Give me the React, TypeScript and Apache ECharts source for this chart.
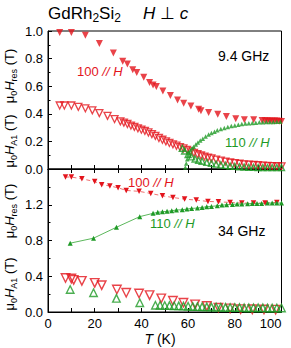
import React, { useEffect, useRef } from 'react';
import * as echarts from 'echarts';

// ---------- data ----------
// 9.4 GHz, resonance field, 100 // H (filled red down-triangles)
const T_res9_100 = [5, 10, 16, 22, 28, 32, 34, 36.3, 38, 41, 43.5, 45, 46.4, 49.2, 52.4, 55.5, 58.1, 61.2, 64.5, 65.5, 68.8, 72.7, 76.4, 80.4, 84.1, 88.1, 91.7, 93, 94, 95, 96, 97, 98, 99, 100];
const H_res9_100 = [0.99, 0.99, 0.97, 0.91, 0.84, 0.78, 0.76, 0.72, 0.70, 0.665, 0.626, 0.609, 0.597, 0.565, 0.532, 0.50, 0.476, 0.457, 0.433, 0.423, 0.409, 0.397, 0.38, 0.364, 0.357, 0.357, 0.351, 0.35, 0.35, 0.348, 0.348, 0.347, 0.347, 0.346, 0.345];
// 9.4 GHz, anisotropy field, 100 // H (open red down-triangles)
const T_a9_100 = [5, 7, 10, 13, 16, 19, 22, 25.5, 28.5, 31, 32.5, 34, 35.5, 37, 38.5, 40, 41.5, 43, 44.5, 46, 47.5, 49, 50.5, 52, 53.5, 55, 56.5, 58, 59.5, 61, 62.5, 64, 65.5, 67, 68.5, 70, 72, 74, 76, 78, 80, 82, 84, 86, 88, 90, 92, 94, 96, 98, 100];
const H_a9_100 = [0.46, 0.46, 0.46, 0.45, 0.44, 0.425, 0.405, 0.385, 0.362, 0.345, 0.336, 0.326, 0.315, 0.305, 0.295, 0.285, 0.276, 0.265, 0.253, 0.24, 0.225, 0.212, 0.2, 0.189, 0.179, 0.169, 0.159, 0.149, 0.139, 0.127, 0.117, 0.107, 0.098, 0.09, 0.083, 0.077, 0.068, 0.06, 0.054, 0.047, 0.042, 0.038, 0.034, 0.031, 0.029, 0.027, 0.025, 0.023, 0.021, 0.02, 0.019];
// 9.4 GHz, resonance field, 110 // H (filled green up-triangles)
const T_res9_110 = [58.8, 59.2, 59.6, 60, 60.5, 61, 61.7, 62.4, 63.3, 64.2, 65.2, 66.3, 67.5, 68.8, 70, 71.3, 72.5, 74, 75.5, 77, 78.5, 80, 81.5, 83, 84.5, 86, 87.5, 89, 90.5, 92, 93.5, 95, 96.5, 98, 99.5];
const H_res9_110 = [0.01, 0.04, 0.07, 0.1, 0.12, 0.135, 0.15, 0.162, 0.178, 0.192, 0.207, 0.22, 0.235, 0.25, 0.26, 0.27, 0.28, 0.29, 0.298, 0.305, 0.311, 0.316, 0.321, 0.326, 0.329, 0.332, 0.334, 0.336, 0.338, 0.339, 0.34, 0.341, 0.341, 0.342, 0.342];
// 9.4 GHz, anisotropy field, 110 // H (open green up-triangles)
const T_a9_110 = [57.5, 58.5, 60, 61.5, 63, 64.5, 66, 68, 70, 72, 74, 76, 78, 80, 82, 84, 86, 88, 90, 92, 94, 96, 98, 100];
const H_a9_110 = [0.15, 0.13, 0.105, 0.088, 0.073, 0.063, 0.056, 0.048, 0.041, 0.035, 0.03, 0.026, 0.022, 0.019, 0.016, 0.014, 0.013, 0.012, 0.011, 0.01, 0.01, 0.01, 0.01, 0.01];

// 34 GHz, resonance field, 100 // H
const T_res34_100 = [7.5, 10, 14.5, 20, 23, 26.5, 30, 33.5, 39, 44, 49, 53.5, 58.5, 63.5, 68.5, 73, 78, 83, 88, 93, 98];
const H_res34_100 = [1.51, 1.51, 1.49, 1.46, 1.425, 1.41, 1.39, 1.36, 1.35, 1.326, 1.30, 1.281, 1.263, 1.252, 1.237, 1.233, 1.226, 1.219, 1.219, 1.219, 1.226];
// 34 GHz, resonance field, 110 // H
const T_res34_110 = [9.5, 19.5, 29.3, 39.3, 45, 47, 49, 51, 53, 55, 57.5, 59.5, 61.5, 64, 66, 68, 70, 72.5, 74.5, 76.5, 79, 81, 83, 85.5, 87.5, 89.5, 91.5, 94, 96, 98, 100];
const H_res34_110 = [0.77, 0.826, 0.948, 1.067, 1.104, 1.115, 1.122, 1.126, 1.133, 1.141, 1.144, 1.152, 1.159, 1.163, 1.17, 1.178, 1.181, 1.189, 1.196, 1.2, 1.204, 1.207, 1.207, 1.211, 1.215, 1.215, 1.215, 1.219, 1.219, 1.219, 1.219];
// 34 GHz, anisotropy field, 100 // H
const T_a34_100 = [7.5, 10, 11, 14.5, 20, 23, 29.5, 33.5, 39, 43.5, 48.5, 53.5, 58, 63, 68, 73, 78, 82.5, 87.5, 92.5, 97.5];
const H_a34_100 = [0.381, 0.374, 0.36, 0.348, 0.326, 0.30, 0.252, 0.215, 0.207, 0.189, 0.152, 0.126, 0.104, 0.085, 0.067, 0.048, 0.041, 0.032, 0.03, 0.028, 0.027];
// 34 GHz, anisotropy field, 110 // H
const T_a34_110 = [9.5, 19.5, 29.3, 39.3, 46, 48, 50, 52, 54, 56, 58, 60, 62, 64, 66, 68, 70, 72, 74, 76, 78, 80, 82, 84, 86, 88, 90, 92, 94, 96, 98, 100];
const H_a34_110 = [0.252, 0.215, 0.152, 0.104, 0.075, 0.075, 0.073, 0.072, 0.07, 0.068, 0.066, 0.064, 0.062, 0.06, 0.058, 0.057, 0.055, 0.054, 0.053, 0.052, 0.051, 0.05, 0.049, 0.048, 0.047, 0.047, 0.046, 0.046, 0.045, 0.045, 0.045, 0.045];

const pairs = (x: number[], y: number[]) => x.map((t, i) => [t, y[i]]);

const RED = '#e3141c';
const GREEN = '#1e9a26';
const FONT = '"Liberation Sans", Arial, Helvetica, sans-serif';

export default function App() {
  const ref = useRef<HTMLDivElement>(null);
  useEffect(() => {
    const chart = echarts.init(ref.current!, null, { renderer: 'svg' });
    const line = { color: '#000', width: 1 };
    const tick = { show: true, inside: true, length: 4, lineStyle: line };
    const lbl = { color: '#000', fontSize: 13, fontFamily: FONT };
    const xBase = (grid: number, extra: any) => ({
      type: 'value', gridIndex: grid, min: 0, max: 100, interval: 10,
      axisLine: { show: true, lineStyle: line }, axisTick: tick,
      splitLine: { show: false }, ...extra,
    });

    const rich = (fs: number, color = '#000') => ({
      n: { fontSize: fs, fontFamily: FONT, color, lineHeight: fs + 5 },
      i: { fontSize: fs, fontFamily: FONT, color, fontStyle: 'italic', lineHeight: fs + 5 },
      s: { fontSize: Math.round(fs * 0.7), fontFamily: FONT, color, lineHeight: Math.round(fs * 0.75), verticalAlign: 'bottom' },
    });

    const txt = (x: number, y: number, text: string, fs: number, color = '#000', align = 'left', rot = 0) => ({
      type: 'text', x, y, rotation: rot, silent: true,
      style: { text, rich: rich(fs, color), align, verticalAlign: 'middle', fill: color, font: `${fs}px ${FONT}` },
    });

    const resTitle = '{n|μ}{s|0}{i|H}{s|res}{n| (T)}';
    const a1Title = '{n|μ}{s|0}{i|H}{s|A1}{n| (T)}';

    const openItem = (c: string, w = 1.3) => ({ color: 'rgba(255,255,255,0)', borderColor: c, borderWidth: w });

    const option: any = {
      animation: false,
      grid: [
        { left: 48, top: 31, width: 233.5, height: 138, show: true, borderColor: '#000', borderWidth: 1 },
        { left: 48, top: 169, width: 233.5, height: 143, show: true, borderColor: '#000', borderWidth: 1 },
      ],
      xAxis: [
        xBase(0, { position: 'bottom', axisLabel: { show: false } }),
        xBase(1, {
          position: 'bottom',
          axisLabel: { ...lbl, margin: 5, alignMaxLabel: 'right', formatter: (v: number) => (v % 20 === 0 ? String(v) : '') },
        }),
        xBase(1, { position: 'top', axisLabel: { show: false } }),
      ],
      yAxis: [
        {
          type: 'value', gridIndex: 0, min: 0, max: 1, interval: 0.2,
          axisLine: { show: true, lineStyle: line }, axisTick: tick,
          minorTick: { show: true, splitNumber: 2, length: 2.5, lineStyle: line },
          splitLine: { show: false }, minorSplitLine: { show: false },
          axisLabel: { ...lbl, margin: 5, formatter: (v: number) => v.toFixed(1) },
        },
        {
          type: 'value', gridIndex: 1, min: 0, max: 1.6, interval: 0.4,
          axisLine: { show: true, lineStyle: line }, axisTick: tick,
          minorTick: { show: true, splitNumber: 2, length: 2.5, lineStyle: line },
          splitLine: { show: false }, minorSplitLine: { show: false },
          axisLabel: { ...lbl, margin: 5, formatter: (v: number) => (v > 1.5 ? '' : v.toFixed(1)) },
        },
      ],
      series: [
        { type: 'scatter', xAxisIndex: 0, yAxisIndex: 0, data: pairs(T_a9_100, H_a9_100), symbol: 'triangle', symbolRotate: 180, symbolSize: 7, itemStyle: openItem(RED), silent: true },
        { type: 'scatter', xAxisIndex: 0, yAxisIndex: 0, data: pairs(T_a9_110, H_a9_110), symbol: 'triangle', symbolSize: 6, itemStyle: openItem(GREEN, 1.4), silent: true },
        { type: 'scatter', xAxisIndex: 0, yAxisIndex: 0, data: pairs(T_res9_100, H_res9_100), symbol: 'triangle', symbolRotate: 180, symbolSize: 7, itemStyle: { color: RED }, silent: true },
        { type: 'scatter', xAxisIndex: 0, yAxisIndex: 0, data: pairs(T_res9_110, H_res9_110), symbol: 'triangle', symbolSize: 4.5, itemStyle: { color: GREEN }, silent: true },

        { type: 'line', xAxisIndex: 1, yAxisIndex: 1, data: pairs(T_res34_100, H_res34_100), symbol: 'triangle', symbolRotate: 180, symbolSize: 5.5, itemStyle: { color: RED }, lineStyle: { color: '#f07070', width: 1, type: [4, 3] }, silent: true },
        { type: 'line', xAxisIndex: 1, yAxisIndex: 1, data: pairs(T_res34_110, H_res34_110), symbol: 'triangle', symbolSize: 5, itemStyle: { color: GREEN }, lineStyle: { color: '#5cb85c', width: 1 }, silent: true },
        { type: 'scatter', xAxisIndex: 1, yAxisIndex: 1, data: pairs(T_a34_100, H_a34_100), symbol: 'triangle', symbolRotate: 180, symbolSize: 8.5, itemStyle: openItem(RED, 1.4), silent: true },
        { type: 'scatter', xAxisIndex: 1, yAxisIndex: 1, data: pairs(T_a34_110, H_a34_110), symbol: 'triangle', symbolSize: 7.5, itemStyle: openItem(GREEN, 1.4), silent: true },
      ],
      graphic: [
        txt(48, 13, '{n|GdRh}{s|2}{n|Si}{s|2}', 17),
        txt(143, 13, '{i|H}{n| ⊥ }{i|c}', 17),
        txt(9, 76, resTitle, 13, '#000', 'center', Math.PI / 2),
        txt(9, 141, a1Title, 13, '#000', 'center', Math.PI / 2),
        txt(9, 211, resTitle, 13, '#000', 'center', Math.PI / 2),
        txt(9, 284, a1Title, 13, '#000', 'center', Math.PI / 2),
        txt(218, 56, '{n|9.4 GHz}', 14),
        txt(218, 231, '{n|34 GHz}', 14),
        txt(77, 71, '{n|100 }{i|// H}', 13, RED),
        txt(225, 142, '{n|110 }{i|// H}', 13, GREEN),
        txt(128, 182, '{n|100 }{i|// H}', 13, RED),
        txt(150, 223, '{n|110 }{i|// H}', 13, GREEN),
        txt(160, 339, '{i|T}{n| (K)}', 14, '#000', 'center'),
      ],
    };
    chart.setOption(option);
    return () => chart.dispose();
  }, []);
  return <div ref={ref} style={{ position: 'absolute', left: 0, top: 0, width: 291, height: 348 }} />;
}
